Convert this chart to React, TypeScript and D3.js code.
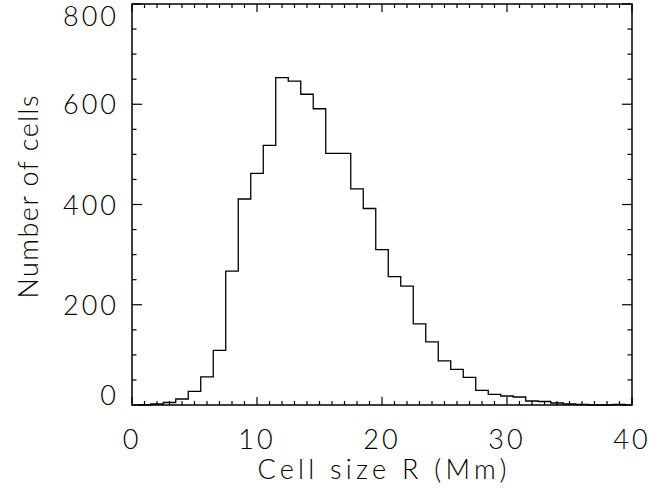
import React from "react";
import * as d3 from "d3";

const binCenters = [1,2,3,4,5,6,7,8,9,10,11,12,13,14,15,16,17,18,19,20,21,22,23,24,25,26,27,28,29,30,31,32,33,34,35,36,37,38,39];
const counts = [0,2,5,12,27,56,109,267,411,462,518,653,646,620,591,502,502,431,392,310,256,237,162,126,88,71,55,29,21,18,16,8,7,4,2,1,0,0,1];
const xTicks = [0, 10, 20, 30, 40];
const yTicks = [0, 200, 400, 600, 800];
const xMinor = d3.range(0, 41, 1);
const yMinor = d3.range(0, 801, 50);

const W = 672, H = 497;
const L = 132, R = 632, T = 4, B = 405;
const FONT = "Lato, 'DejaVu Sans', sans-serif";

export default function App() {
  const x = d3.scaleLinear().domain([0, 40]).range([L, R]);
  const y = d3.scaleLinear().domain([0, 800]).range([B, T]);

  const pts: [number, number][] = [];
  binCenters.forEach((c, i) => {
    pts.push([c - 0.5, counts[i]]);
    pts.push([c + 0.5, counts[i]]);
  });
  const line = d3.line<[number, number]>().x(d => x(d[0])).y(d => y(d[1]));

  const txt = { fontFamily: FONT, fontWeight: 300, fontSize: 27, fill: "#000" } as const;

  return (
    <svg width={W} height={H} style={{ position: "absolute", left: 0, top: 0, background: "#fff" }}>
      <rect x={0} y={0} width={W} height={H} fill="#fff" />
      <path d={line(pts) || ""} fill="none" stroke="#000" strokeWidth={1.3} />
      <rect x={L} y={T} width={R - L} height={B - T} fill="none" stroke="#000" strokeWidth={1.5} />
      {xMinor.map(v => {
        const major = v % 10 === 0;
        const len = major ? 8 : 4;
        return (
          <g key={"xm" + v}>
            <line x1={x(v)} x2={x(v)} y1={B} y2={B - len} stroke="#000" strokeWidth={1.2} />
            <line x1={x(v)} x2={x(v)} y1={T} y2={T + len} stroke="#000" strokeWidth={1.2} />
          </g>
        );
      })}
      {yMinor.map(v => {
        const major = v % 200 === 0;
        const len = major ? 10 : 4.5;
        return (
          <g key={"ym" + v}>
            <line x1={L} x2={L + len} y1={y(v)} y2={y(v)} stroke="#000" strokeWidth={1.2} />
            <line x1={R} x2={R - len} y1={y(v)} y2={y(v)} stroke="#000" strokeWidth={1.2} />
          </g>
        );
      })}
      {xTicks.map(v => (
        <text key={"xl" + v} x={x(v)} y={449} textAnchor="middle" letterSpacing={3} {...txt}>{v}</text>
      ))}
      {yTicks.map(v => (
        <text key={"yl" + v} x={119} y={Math.min(Math.max(y(v) + 10, y(800) + 22), y(0))} textAnchor="end" letterSpacing={3} {...txt}>{v}</text>
      ))}
      <text x={(L + R) / 2} y={479} textAnchor="middle" textLength={249} lengthAdjust="spacing" {...txt}>Cell size R (Mm)</text>
      <text transform={`translate(38,197) rotate(-90)`} x={0} y={0} textAnchor="middle" textLength={203} lengthAdjust="spacing" {...txt}>Number of cells</text>
    </svg>
  );
}
